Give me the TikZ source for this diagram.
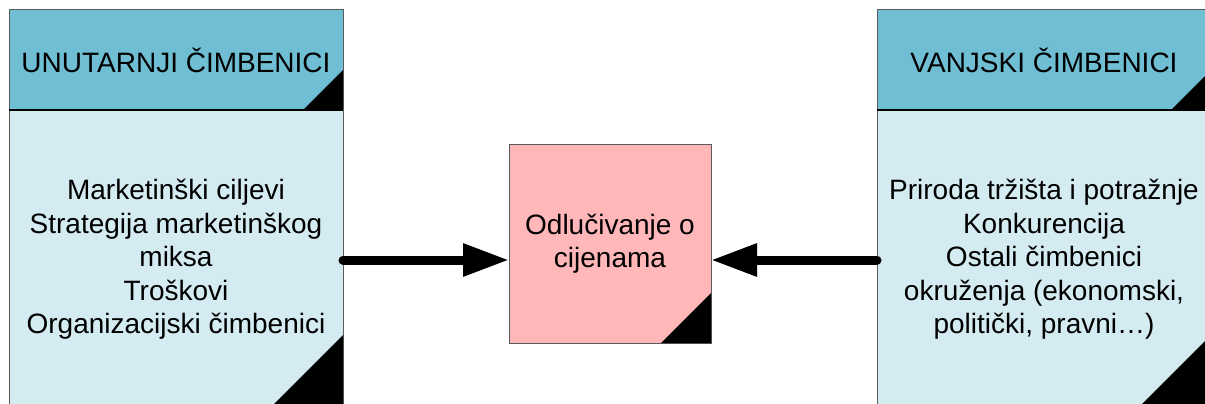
\documentclass[tikz,border=0pt]{standalone}
\usepackage{fontspec}
\setmainfont{Liberation Sans}
\usetikzlibrary{arrows.meta}
\definecolor{headblue}{HTML}{6FBED3}
\definecolor{bodyblue}{HTML}{D3EBF1}
\definecolor{pinkbox}{HTML}{FFB7BA}
\definecolor{edgegray}{HTML}{5A5A5A}
\begin{document}
\begin{tikzpicture}[x=1pt,y=-1pt,
  box/.style={draw=edgegray, line width=1pt, inner sep=0pt, outer sep=0pt,
    anchor=north west, align=center,
    font=\fontsize{28}{33.5}\selectfont},
  headbox/.style={box, fill=headblue, minimum width=334pt, minimum height=100pt},
  bodybox/.style={box, fill=bodyblue, minimum width=334pt, minimum height=299pt},
  decbox/.style={box, fill=pinkbox, minimum width=202pt, minimum height=199pt},
  bigarrow/.style={line width=9pt, line cap=round,
    -{Triangle[length=46pt,width=31pt]}}
]
\useasboundingbox (0,0) rectangle (1205,404);
\clip (0,0) rectangle (1205,404);

% internal factors
\node[headbox] (lhead) at (9,10) {UNUTARNJI ČIMBENICI};
\node[bodybox] (lbody) at (9,110) {Marketinški ciljevi\\Strategija marketinškog\\miksa\\Troškovi\\Organizacijski čimbenici};

% external factors
\node[headbox] (rhead) at (877,10) {VANJSKI ČIMBENICI};
\node[bodybox] (rbody) at (877,110) {Priroda tržišta i potražnje\\Konkurencija\\Ostali čimbenici\\okruženja (ekonomski,\\politički, pravni…)};

% decision box
\node[decbox] (cbox) at (509,144) {Odlučivanje o\\cijenama};

% black corner marks
\foreach \n/\l in {lhead/40pt, rhead/40pt, cbox/50pt}{
  \fill[black] (\n.south east) -- ([xshift=-\l]\n.south east) -- ([yshift=\l]\n.south east) -- cycle;
}
\foreach \n in {lbody, rbody}{
  \fill[black] ([yshift=4pt]\n.south east) -- ([xshift=-70pt,yshift=4pt]\n.south east) -- ([yshift=74pt]\n.south east) -- cycle;
}

% header separators
\draw[black, line width=1.3pt] (lhead.south west) -- (lhead.south east);
\draw[black, line width=1.3pt] (rhead.south west) -- (rhead.south east);

% influence arrows
\coordinate (ay) at (0,260);
\draw[bigarrow] (lbody.east |- ay) -- (cbox.west |- ay);
\draw[bigarrow] (rbody.west |- ay) -- (cbox.east |- ay);
\end{tikzpicture}
\end{document}
